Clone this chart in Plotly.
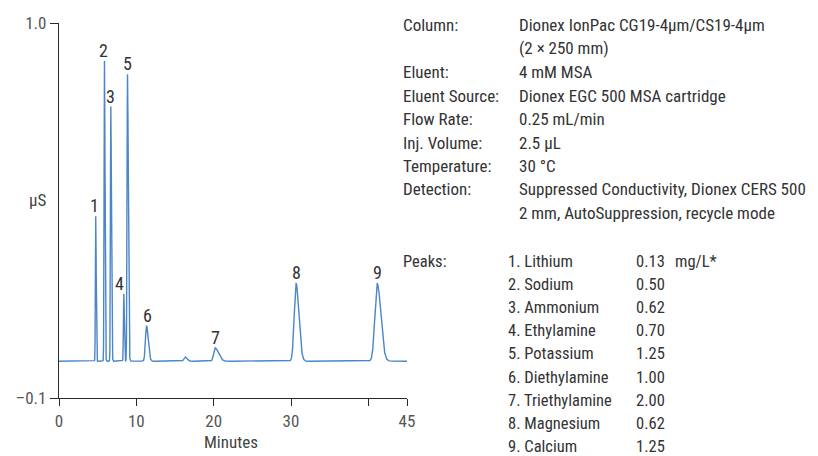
import numpy as np
import plotly.graph_objects as go

# ---------------- data ----------------
peak_numbers = ["1", "2", "3", "4", "5", "6", "", "7", "8", "9"]
peak_times = [4.75, 5.88, 6.70, 8.38, 8.86, 11.32, 16.3, 20.17, 30.66, 41.15]      # min
peak_heights = [0.425, 0.881, 0.747, 0.198, 0.842, 0.104, 0.013, 0.039, 0.228, 0.228]  # µS above baseline
sigma_left = [0.045, 0.05, 0.05, 0.05, 0.06, 0.14, 0.15, 0.18, 0.24, 0.30]
sigma_right = [0.06, 0.07, 0.08, 0.07, 0.10, 0.22, 0.25, 0.45, 0.36, 0.46]
baseline = 0.008

cond_labels = ["Column:", "", "Eluent:", "Eluent Source:", "Flow Rate:", "Inj. Volume:",
               "Temperature:", "Detection:", ""]
cond_values = ["Dionex IonPac CG19-4µm/CS19-4µm", "(2 × 250 mm)", "4 mM MSA",
               "Dionex EGC 500 MSA cartridge", "0.25 mL/min", "2.5 µL", "30 °C",
               "Suppressed Conductivity, Dionex CERS 500", "2 mm, AutoSuppression, recycle mode"]

analyte_names = ["1. Lithium", "2. Sodium", "3. Ammonium", "4. Ethylamine", "5. Potassium",
                 "6. Diethylamine", "7. Triethylamine", "8. Magnesium", "9. Calcium"]
analyte_conc = ["0.13", "0.50", "0.62", "0.70", "1.25", "1.00", "2.00", "0.62", "1.25"]
conc_unit = "mg/L*"

x_ticks = [0, 10, 20, 30, 40, 45]
x_tick_text = ["0", "10", "20", "30", "", "45"]
y_ticks = [-0.1, 1.0]
y_tick_text = ["–0.1", "1.0"]

# ---------------- trace ----------------
t = np.linspace(0, 45, 4501)
signal = np.full_like(t, baseline)
for tr, h, sl, sr in zip(peak_times, peak_heights, sigma_left, sigma_right):
    s = np.where(t < tr, sl, sr)
    signal = signal + h * np.exp(-0.5 * ((t - tr) / s) ** 2)

FONT = "Liberation Sans Narrow, Roboto Condensed, Roboto, Arial, sans-serif"
LINE = "#4a86c8"
TXT = "#333333"

W, H = 818, 456
L, R, T, B = 59.3, 406.7, 23, 398

fig = go.Figure()
fig.add_trace(go.Scatter(x=t, y=signal, mode="lines",
                         line=dict(color=LINE, width=1.4), hoverinfo="skip"))

def px(xp):
    return (xp - L) / (R - L)

def py(yp):
    return (B - yp) / (B - T)

ann = []
# peak labels
label_xshift = {"4": -4, "1": -1, "2": -1, "6": 1, "7": 1}
for num, tr, h in zip(peak_numbers, peak_times, peak_heights):
    if not num:
        continue
    ann.append(dict(x=tr, y=baseline + h, xref="x", yref="y", text=num, showarrow=False,
                    xanchor="center", yanchor="bottom", yshift=-2,
                    xshift=label_xshift.get(num, 0),
                    font=dict(family=FONT, size=18, color=TXT)))

# axis titles
ann.append(dict(x=px(38), y=py(200), xref="paper", yref="paper", text="µS", showarrow=False,
                xanchor="center", yanchor="middle", font=dict(family=FONT, size=17, color="#444")))
ann.append(dict(x=px(231), y=py(442), xref="paper", yref="paper", text="Minutes", showarrow=False,
                xanchor="center", yanchor="middle", font=dict(family=FONT, size=17, color="#444")))

# conditions
row0, dy = 25, 23.5
for i, (lab, val) in enumerate(zip(cond_labels, cond_values)):
    yy = py(row0 + i * dy)
    if lab:
        ann.append(dict(x=px(400.7), y=yy, xref="paper", yref="paper", text=lab, showarrow=False,
                        xanchor="left", yanchor="middle", font=dict(family=FONT, size=17, color=TXT)))
    ann.append(dict(x=px(516.7), y=yy, xref="paper", yref="paper", text=val, showarrow=False,
                    xanchor="left", yanchor="middle", font=dict(family=FONT, size=17, color=TXT)))

# peaks table
prow0, pdy = 261.5, 23.1
TS = 16.5
ann.append(dict(x=px(400.7), y=py(prow0), xref="paper", yref="paper", text="Peaks:", showarrow=False,
                xanchor="left", yanchor="middle", font=dict(family=FONT, size=TS, color=TXT)))
for i, (nm, cc) in enumerate(zip(analyte_names, analyte_conc)):
    yy = py(prow0 + i * pdy)
    ann.append(dict(x=px(506), y=yy, xref="paper", yref="paper", text=nm, showarrow=False,
                    xanchor="left", yanchor="middle", font=dict(family=FONT, size=TS, color=TXT)))
    ann.append(dict(x=px(633.3), y=yy, xref="paper", yref="paper", text=cc, showarrow=False,
                    xanchor="left", yanchor="middle", font=dict(family=FONT, size=TS, color=TXT)))
    if i == 0:
        ann.append(dict(x=px(672), y=yy, xref="paper", yref="paper", text=conc_unit, showarrow=False,
                        xanchor="left", yanchor="middle", font=dict(family=FONT, size=TS, color=TXT)))

fig.update_layout(
    width=W, height=H,
    margin=dict(l=L, r=W - R, t=T, b=H - B, pad=0),
    paper_bgcolor="white", plot_bgcolor="white",
    showlegend=False,
    annotations=ann,
    xaxis=dict(range=[0, 45], tickvals=x_ticks, ticktext=x_tick_text, showgrid=False,
               zeroline=False, showline=True, linecolor="#2a2a2a", linewidth=1.3,
               ticks="outside", ticklen=7, tickwidth=1.3, tickcolor="#2a2a2a",
               tickfont=dict(family=FONT, size=17, color="#555")),
    yaxis=dict(range=[-0.1, 1.0], tickvals=y_ticks, ticktext=y_tick_text, showgrid=False,
               zeroline=False, showline=True, linecolor="#2a2a2a", linewidth=1.3,
               ticks="outside", ticklen=8, tickwidth=1.3, tickcolor="#2a2a2a",
               tickfont=dict(family=FONT, size=17, color="#555")),
)

fig.write_html("out.html")
